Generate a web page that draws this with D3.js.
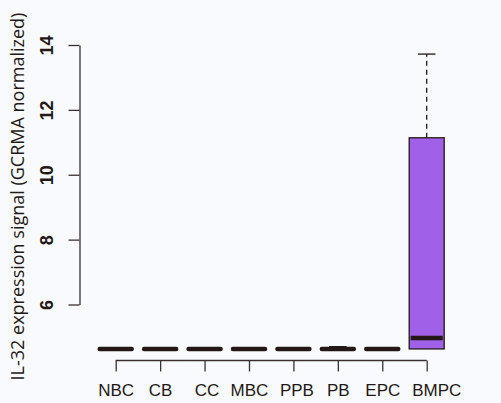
<!DOCTYPE html>
<html>
<head>
<meta charset="utf-8">
<script src="https://cdn.jsdelivr.net/npm/d3@7"></script>
<style>
  html, body { margin: 0; padding: 0; background: #f9fafd; }
  svg { display: block; }
</style>
</head>
<body>
<div id="chart"></div>
<script>
// box stats
const categories = ['NBC', 'CB', 'CC', 'MBC', 'PPB', 'PB', 'EPC', 'BMPC'];
const lowWhisker = [4.63, 4.63, 4.63, 4.63, 4.63, 4.63, 4.63, 4.63];
const q1 = [4.63, 4.63, 4.63, 4.63, 4.63, 4.63, 4.63, 4.63];
const medians = [4.63, 4.63, 4.63, 4.63, 4.63, 4.63, 4.63, 4.97];
const q3 = [4.63, 4.63, 4.63, 4.63, 4.63, 4.63, 4.63, 11.14];
const highWhisker = [4.63, 4.63, 4.63, 4.63, 4.63, 4.70, 4.63, 13.72];
const yTicks = [6, 8, 10, 12, 14];

const width = 501, height = 403;
const ink = '#231815';
// the labels in the original are nudged a little off their ticks
const labelNudge = { CC: 2, PPB: 3, BMPC: 9.5 };

const svg = d3.select('#chart').append('svg')
    .attr('width', width)
    .attr('height', height);

svg.append('rect')
    .attr('width', width).attr('height', height)
    .attr('fill', '#f9fafd');

const x = d3.scalePoint()
    .domain(categories)
    .range([115.7, 426.7]);

const y = d3.scaleLinear()
    .domain([6, 14])
    .range([304.5, 45]);

const boxes = categories.map((c, i) => ({
    name: c,
    lo: lowWhisker[i], q1: q1[i], med: medians[i], q3: q3[i], hi: highWhisker[i]
}));

const halfW = 17.5;

const g = svg.append('g');

// whiskers (dashed) + staples
boxes.filter(d => d.hi > d.q3).forEach(d => {
    g.append('line')
        .attr('x1', x(d.name)).attr('x2', x(d.name))
        .attr('y1', y(d.q3)).attr('y2', y(d.hi))
        .attr('stroke', ink).attr('stroke-width', 1.3)
        .attr('stroke-dasharray', '5,4');
    g.append('line')
        .attr('x1', x(d.name) - halfW / 2).attr('x2', x(d.name) + halfW / 2)
        .attr('y1', y(d.hi)).attr('y2', y(d.hi))
        .attr('stroke', ink).attr('stroke-width', 1.3);
});

// boxes
g.selectAll('rect.box')
    .data(boxes.filter(d => d.q3 > d.q1))
    .enter()
    .append('rect')
    .attr('class', 'box')
    .attr('x', d => x(d.name) - halfW)
    .attr('width', halfW * 2)
    .attr('y', d => y(d.q3))
    .attr('height', d => y(d.q1) - y(d.q3))
    .attr('fill', '#a160e8')
    .attr('stroke', ink)
    .attr('stroke-width', 1.3);

// medians
g.selectAll('line.med')
    .data(boxes)
    .enter()
    .append('line')
    .attr('class', 'med')
    .attr('x1', d => x(d.name) - halfW + 1.5)
    .attr('x2', d => x(d.name) + halfW - 1.5)
    .attr('y1', d => y(d.med))
    .attr('y2', d => y(d.med))
    .attr('stroke', ink)
    .attr('stroke-width', 4.5)
    .attr('stroke-linecap', d => d.q3 > d.q1 ? 'butt' : 'round');

// y axis
const yAxis = svg.append('g')
    .attr('transform', 'translate(79.5,0)')
    .call(d3.axisLeft(y).tickValues(yTicks).tickSize(11).tickSizeOuter(0));
yAxis.select('.domain').attr('stroke', '#3a3030').attr('stroke-width', 1.3);
yAxis.selectAll('.tick line').attr('stroke', '#3a3030').attr('stroke-width', 1.3);
yAxis.selectAll('.tick text').remove();
yAxis.selectAll('.tick')
    .append('text')
    .attr('transform', 'translate(-27,0) rotate(-90)')
    .attr('text-anchor', 'middle')
    .attr('fill', ink)
    .style('font-family', '"Liberation Sans", Arial, sans-serif')
    .style('font-weight', 'bold')
    .style('font-size', '18px')
    .text(d => d);

// x axis
const xAxis = svg.append('g')
    .attr('transform', 'translate(0,360.5)')
    .call(d3.axisBottom(x).tickSize(11).tickSizeOuter(0).tickPadding(0));
xAxis.select('.domain').attr('stroke', '#3a3030').attr('stroke-width', 1.3)
    .attr('d', `M${x(categories[0])},0H${x(categories[categories.length - 1])}`);
xAxis.selectAll('.tick line').attr('stroke', '#3a3030').attr('stroke-width', 1.3);
xAxis.selectAll('.tick text')
    .attr('y', 35.5).attr('dy', null)
    .attr('x', d => labelNudge[d] || 0)
    .attr('fill', ink)
    .style('font-family', '"Liberation Sans", Arial, sans-serif')
    .style('font-size', '17px');

// y label
svg.append('text')
    .attr('transform', 'translate(24,196.5) rotate(-90)')
    .attr('text-anchor', 'middle')
    .attr('fill', ink)
    .style('font-family', '"Open Sans", sans-serif')
    .style('font-size', '18px')
    .text('IL-32 expression signal (GCRMA normalized)');
</script>
</body>
</html>
